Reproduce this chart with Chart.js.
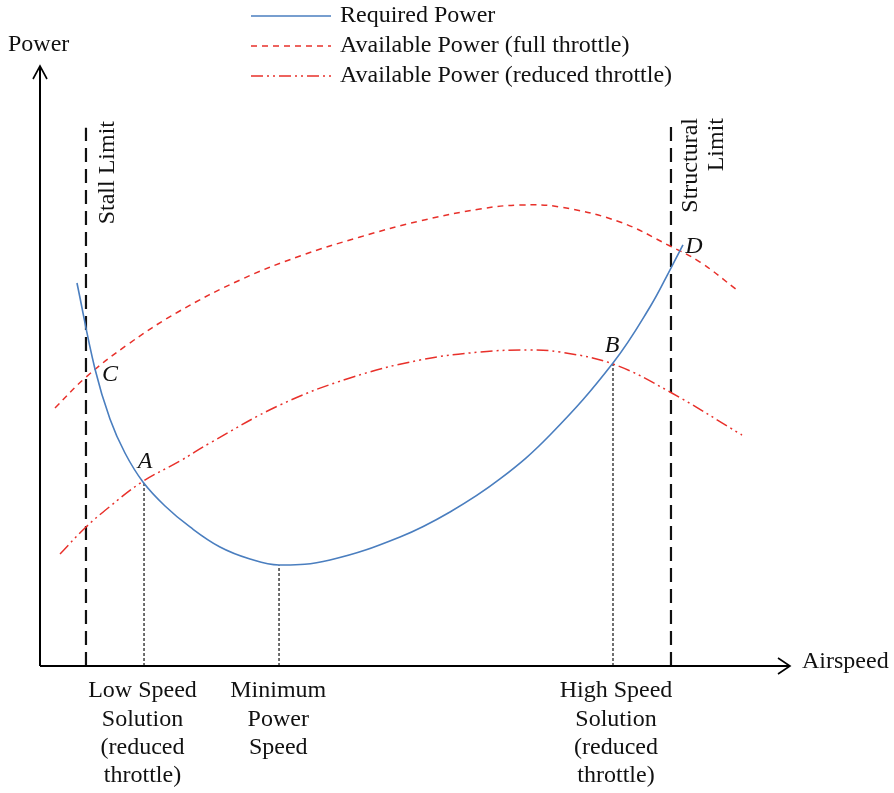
<!DOCTYPE html>
<html>
<head>
<meta charset="utf-8">
<script src="https://cdn.jsdelivr.net/npm/chart.js@4/dist/chart.umd.min.js"></script>
<style>
  html, body { margin: 0; padding: 0; background: #fff; }
  #wrap { width: 894px; height: 793px; position: relative; }
</style>
</head>
<body>
<div id="wrap"><canvas id="chart" width="894" height="793"></canvas></div>
<script>
// Data (airspeed 0-100, power 0-100, arbitrary units)
const requiredX = [4.93, 7.33, 9.33, 11.33, 13.73, 16.67, 20, 24, 28, 31.87, 38.67, 48, 54.67, 61.33, 68, 76.4, 81.33, 84.13, 85.73];
const requiredY = [63.83, 49.5, 41.17, 35.5, 30.67, 26.67, 23.17, 19.83, 17.83, 16.83, 17.67, 21.5, 25.67, 31.17, 38.5, 50.5, 59.83, 66.33, 70.17];

const fullX = [2, 6, 11.6, 18.4, 26.67, 34.67, 42.67, 50.67, 58.67, 64, 69.33, 77.33, 84, 88, 92.93];
const fullY = [43, 48, 53.5, 59, 64.33, 68.33, 71.5, 74.17, 76.17, 76.83, 76.5, 74, 70, 67.33, 62.67];

const reducedX = [2.67, 6, 9.07, 13.6, 18.67, 22.67, 32, 41.33, 50.67, 58.67, 65.33, 69.33, 76.4, 84, 93.6];
const reducedY = [18.67, 23, 26.33, 30.67, 34.17, 37.17, 43.5, 48, 51, 52.33, 52.67, 52.33, 50.33, 45.67, 38.5];

// Limits and solution speeds
const stallSpeed = 6.13, stallTop = 89.7;
const structSpeed = 84.13, structTop = 90.3;
const markerSpeeds = [13.87, 31.87, 76.4];
const markerPowers = [30.5, 16.8, 50.4];

const pointLabels = ['A', 'B', 'C', 'D'];
const pointLabelX = [14, 76.27, 9.33, 87.2];
const pointLabelY = [34, 53.33, 48.5, 69.83];

const bottomLabels = [
    ['Low Speed', 'Solution', '(reduced', 'throttle)'],
    ['Minimum', 'Power', 'Speed'],
    ['High Speed', 'Solution', '(reduced', 'throttle)']
];

const red = '#e8302a';
const blue = '#4a7ebf';
const font = '"Liberation Serif", "Times New Roman", serif';

const zip = (xs, ys) => xs.map((x, i) => ({ x: x, y: ys[i] }));

const datasets = [
    { label: 'Required Power', data: zip(requiredX, requiredY), borderColor: blue, borderWidth: 1.6, legend: true },
    { label: 'Available Power (full throttle)', data: zip(fullX, fullY), borderColor: red, borderWidth: 1.5, borderDash: [6, 5], legend: true },
    { label: 'Available Power (reduced throttle)', data: zip(reducedX, reducedY), borderColor: red, borderWidth: 1.5, borderDash: [12, 4, 2, 4, 2, 4], legend: true },
    { label: 'stall', data: [{ x: stallSpeed, y: 0 }, { x: stallSpeed, y: stallTop }], borderColor: '#111', borderWidth: 2.2, borderDash: [14, 7] },
    { label: 'structural', data: [{ x: structSpeed, y: 0 }, { x: structSpeed, y: structTop }], borderColor: '#111', borderWidth: 2.2, borderDash: [14, 7] }
];
markerSpeeds.forEach((s, i) => {
    datasets.push({ label: 'marker' + i, data: [{ x: s, y: 0 }, { x: s, y: markerPowers[i] }], borderColor: '#111', borderWidth: 1.2, borderDash: [3, 2] });
});
datasets.forEach(d => {
    d.pointRadius = 0;
    d.fill = false;
    d.tension = d.legend ? 0.4 : 0;
});

// Axes, annotations and legend
const decorations = {
    id: 'decorations',
    afterDraw(chart) {
        const ctx = chart.ctx;
        const xs = chart.scales.x, ys = chart.scales.y;
        const ox = xs.getPixelForValue(0), oy = ys.getPixelForValue(0);
        const right = xs.getPixelForValue(100), top = ys.getPixelForValue(100);

        ctx.save();
        ctx.strokeStyle = '#000';
        ctx.lineWidth = 2;
        ctx.beginPath();
        ctx.moveTo(ox, oy); ctx.lineTo(right, oy);
        ctx.moveTo(ox, oy); ctx.lineTo(ox, top);
        ctx.stroke();
        // arrow heads
        ctx.lineWidth = 1.6;
        ctx.beginPath();
        ctx.moveTo(right - 12, oy - 8); ctx.lineTo(right, oy); ctx.lineTo(right - 12, oy + 8);
        ctx.moveTo(ox - 7, top + 13); ctx.lineTo(ox, top); ctx.lineTo(ox + 7, top + 13);
        ctx.stroke();

        ctx.fillStyle = '#111';
        ctx.font = '24px ' + font;
        ctx.textBaseline = 'middle';
        ctx.textAlign = 'left';
        ctx.fillText('Power', 8, 45);
        ctx.fillText('Airspeed', right + 12, oy - 4);

        // bottom labels
        ctx.textAlign = 'center';
        const centers = [markerSpeeds[0] - 0.2, markerSpeeds[1] - 0.1, markerSpeeds[2] + 0.4];
        bottomLabels.forEach((lines, i) => {
            const cx = xs.getPixelForValue(centers[i]);
            lines.forEach((t, j) => ctx.fillText(t, cx, oy + 25 + j * 28.3));
        });

        // point labels
        ctx.font = 'italic 24px ' + font;
        pointLabels.forEach((t, i) => {
            ctx.fillText(t, xs.getPixelForValue(pointLabelX[i]), ys.getPixelForValue(pointLabelY[i]));
        });

        // rotated limit labels
        ctx.font = '24px ' + font;
        ctx.textAlign = 'right';
        const rot = (t, x, y) => {
            ctx.save();
            ctx.translate(x, y);
            ctx.rotate(-Math.PI / 2);
            ctx.fillText(t, 0, 0);
            ctx.restore();
        };
        rot('Stall Limit', xs.getPixelForValue(stallSpeed) + 22, 121);
        rot('Structural', xs.getPixelForValue(structSpeed) + 20, 118);
        rot('Limit', xs.getPixelForValue(structSpeed) + 46, 118);

        // legend
        ctx.textAlign = 'left';
        chart.data.datasets.filter(d => d.legend).forEach((d, i) => {
            const y = 16 + i * 30;
            ctx.strokeStyle = d.borderColor;
            ctx.lineWidth = d.borderWidth;
            ctx.setLineDash(d.borderDash || []);
            ctx.beginPath();
            ctx.moveTo(251, y); ctx.lineTo(331, y);
            ctx.stroke();
            ctx.setLineDash([]);
            ctx.fillStyle = '#111';
            ctx.fillText(d.label, 340, y);
        });
        ctx.restore();
    }
};

new Chart(document.getElementById('chart').getContext('2d'), {
    type: 'line',
    data: { datasets: datasets },
    options: {
        responsive: false,
        animation: false,
        layout: { padding: { left: 40, right: 104, top: 66, bottom: 127 } },
        scales: {
            x: { type: 'linear', min: 0, max: 100, display: false },
            y: { type: 'linear', min: 0, max: 100, display: false }
        },
        plugins: { legend: { display: false }, tooltip: { enabled: false } }
    },
    plugins: [decorations]
});
</script>
</body>
</html>
